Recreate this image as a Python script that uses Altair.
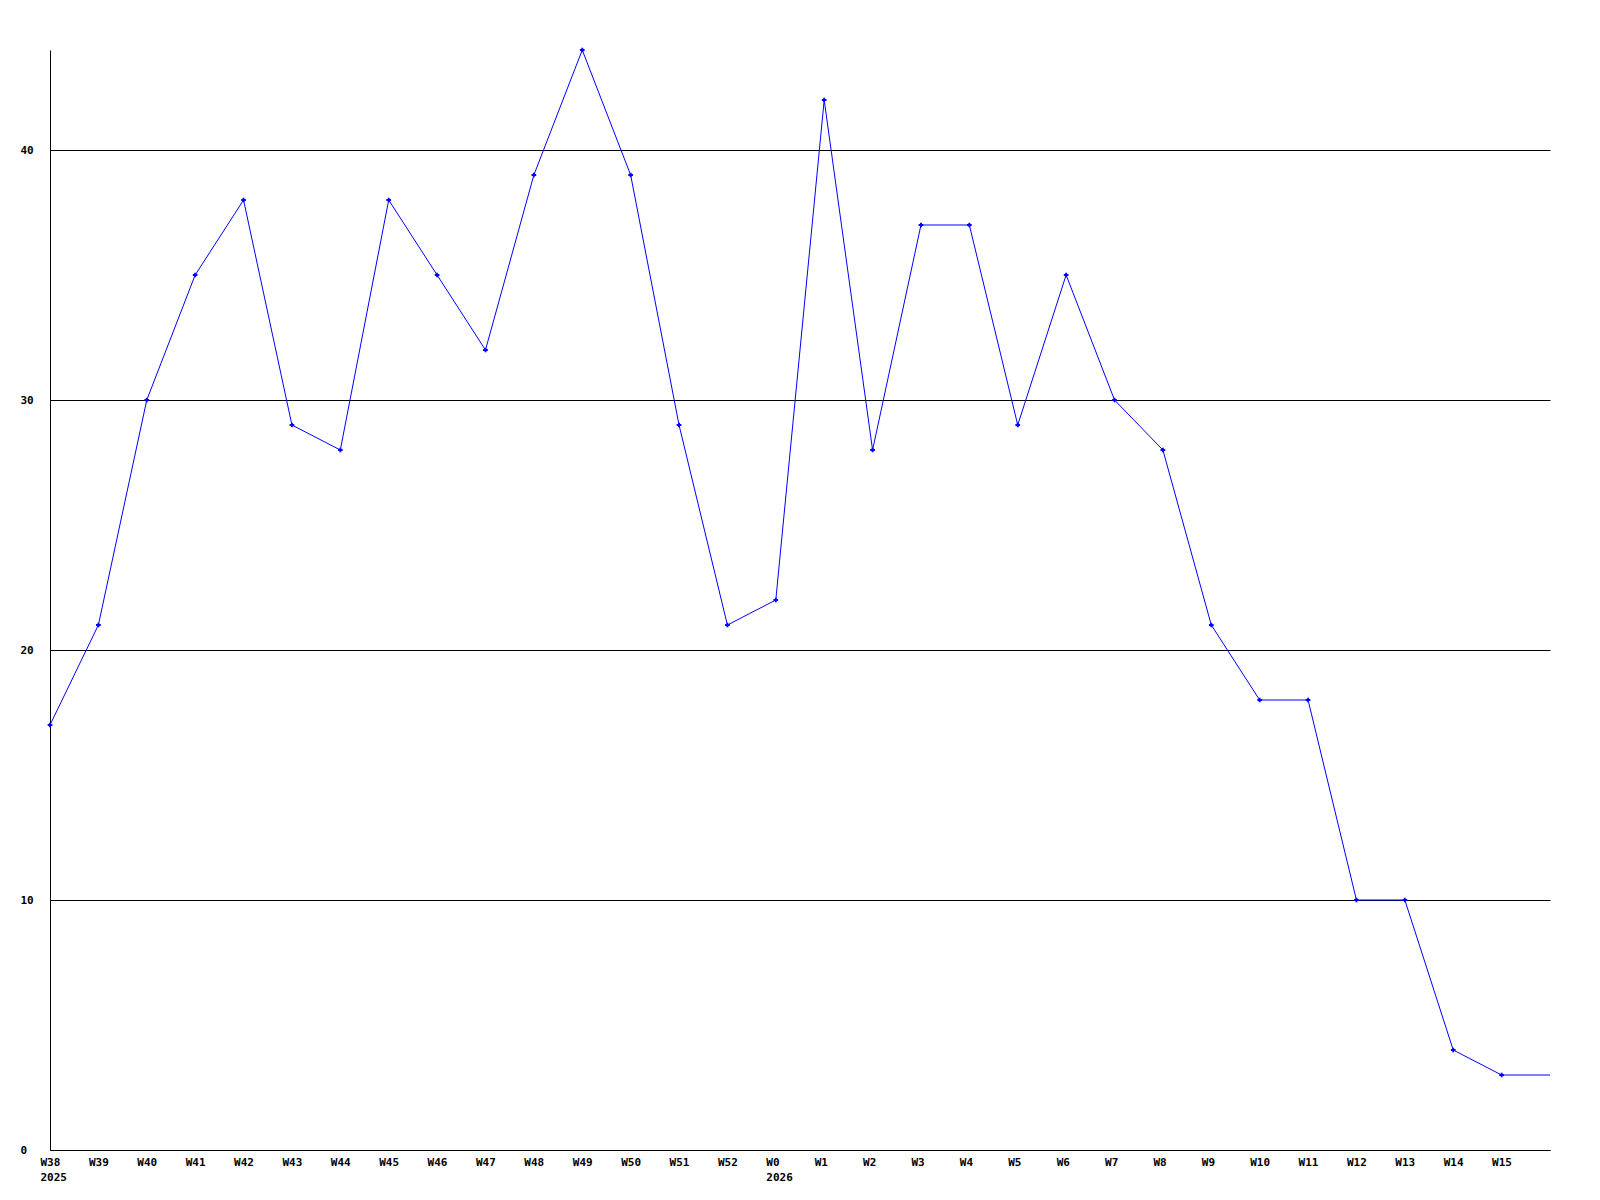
import altair as alt
import pandas as pd
import json

weeks = ["W38", "W39", "W40", "W41", "W42", "W43", "W44", "W45", "W46", "W47",
         "W48", "W49", "W50", "W51", "W52", "W0", "W1", "W2", "W3", "W4",
         "W5", "W6", "W7", "W8", "W9", "W10", "W11", "W12", "W13", "W14", "W15"]
values = [17, 21, 30, 35, 38, 29, 28, 38, 35, 32,
          39, 44, 39, 29, 21, 22, 42, 28, 37, 37,
          29, 35, 30, 28, 21, 18, 18, 10, 10, 4, 3]
# the line carries on to the right edge at the last value
tail_value = 3
years = {0: "2025", 15: "2026"}

n = len(weeks)
line_df = pd.DataFrame({"idx": list(range(n + 1)), "v": values + [tail_value]})
pt_df = pd.DataFrame({"idx": list(range(n)), "v": values})

lab_arr = json.dumps(weeks).replace('"', "'")
year_expr = " : ".join(
    [f"datum.value == {k} ? [{lab_arr}[datum.value], '{y}']" for k, y in years.items()]
) + f" : {lab_arr}[datum.value]"

FONT = "DejaVu Sans Mono"

x_enc = alt.X(
    "idx:Q",
    scale=alt.Scale(domain=[0, n], nice=False, zero=False),
    axis=alt.Axis(
        values=list(range(n)),
        labelExpr=year_expr,
        title=None,
        grid=False,
        ticks=False,
        tickSize=0,
        labelAlign="left",
        labelBaseline="top",
        labelOffset=-10,
        labelPadding=6,
        labelLineHeight=15,
        labelFont=FONT,
        labelFontWeight="bold",
        labelFontSize=11,
        labelColor="black",
        labelOverlap=False,
        labelFlush=False,
        domainColor="black",
        domainWidth=1,
    ),
)
y_enc = alt.Y(
    "v:Q",
    scale=alt.Scale(domain=[0, 44], nice=False),
    axis=alt.Axis(
        values=[0, 10, 20, 30, 40],
        title=None,
        grid=True,
        gridColor="black",
        gridOpacity=1,
        gridWidth=1,
        ticks=False,
        tickSize=0,
        labelAlign="left",
        labelBaseline="middle",
        labelPadding=30,
        labelFont=FONT,
        labelFontWeight="bold",
        labelFontSize=11,
        labelColor="black",
        labelFlush=False,
        domainColor="black",
        domainWidth=1,
    ),
)

line = alt.Chart(line_df).mark_line(color="#0000FF", strokeWidth=1).encode(x=x_enc, y=y_enc)
pts = alt.Chart(pt_df).mark_point(shape="cross", size=22, filled=True, color="#0000FF", opacity=1).encode(
    x="idx:Q", y="v:Q"
)

chart = (
    alt.layer(line, pts)
    .properties(
        width=1500,
        height=1100,
        autosize=alt.AutoSizeParams(type="none"),
        padding={"left": 42, "top": 42, "right": 30, "bottom": 40},
        background="white",
    )
    .configure_view(stroke=None)
)

chart.save("out.html", embed_options={"renderer": "svg", "actions": False})
